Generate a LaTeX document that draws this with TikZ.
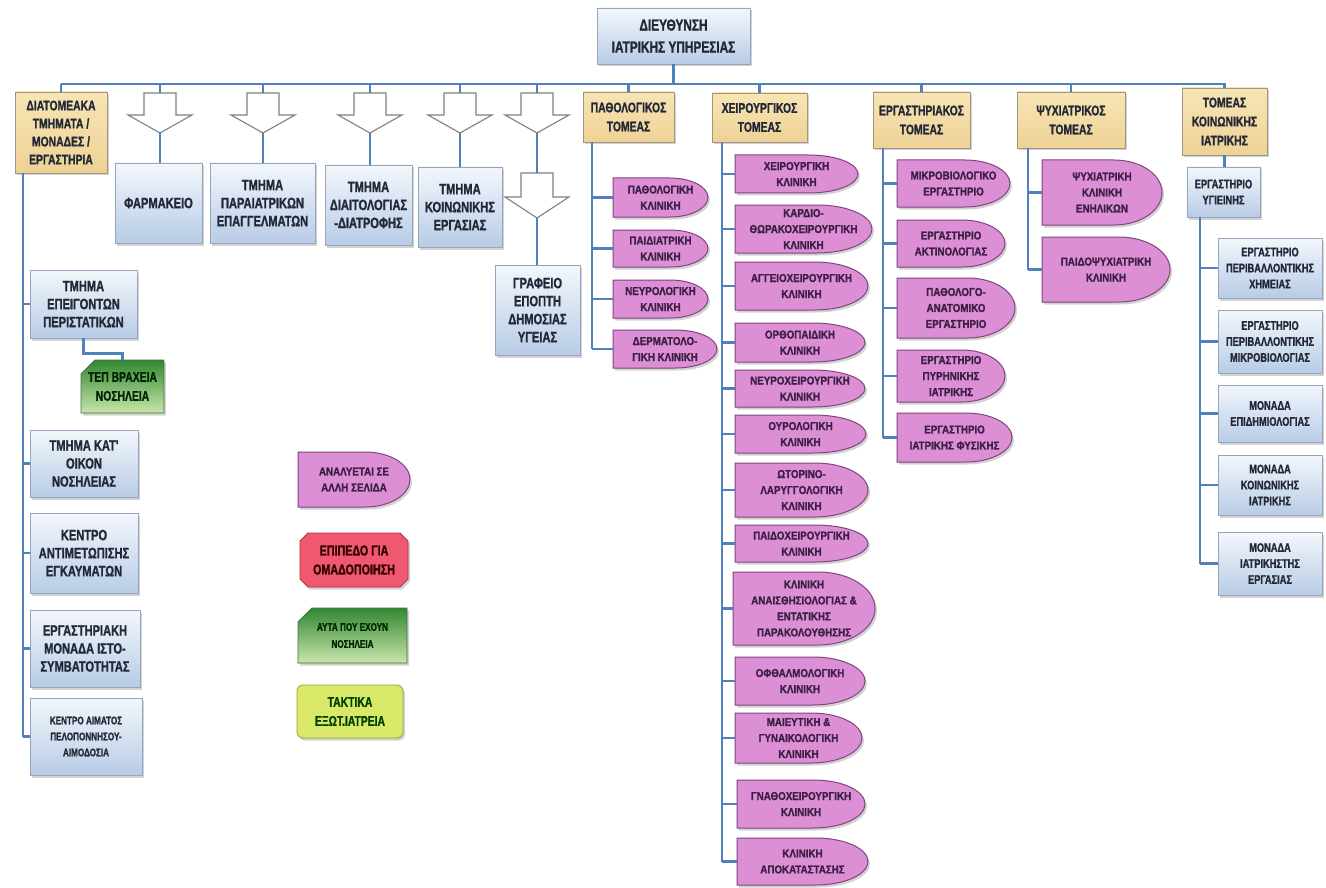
\documentclass[tikz,border=0pt]{standalone}
\usepackage{fontspec}
\setmainfont{Liberation Sans}
\newfontfamily\fN{Liberation Sans}[UprightFont=* Bold,FakeStretch=0.74,FakeBold=1.2]
\newfontfamily\fP{Liberation Sans}[UprightFont=* Bold,FakeStretch=0.85,FakeBold=1.2]
\usetikzlibrary{shadows,shapes.misc,calc}
\definecolor{conncol}{RGB}{79,129,189}
\definecolor{bluetop}{RGB}{243,247,252}
\definecolor{bluebot}{RGB}{184,204,230}
\definecolor{blueline}{RGB}{150,165,190}
\definecolor{tantop}{RGB}{247,229,180}
\definecolor{tanbot}{RGB}{238,210,150}
\definecolor{tanline}{RGB}{160,150,130}
\definecolor{pinkfill}{RGB}{221,143,213}
\definecolor{pinkline}{RGB}{125,70,125}
\definecolor{pinktxt}{RGB}{60,30,70}
\definecolor{txtdark}{RGB}{35,40,55}
\definecolor{greentop}{RGB}{50,135,50}
\definecolor{greenbot}{RGB}{200,230,170}
\definecolor{greenline}{RGB}{70,110,60}
\definecolor{redfill}{RGB}{240,88,112}
\definecolor{redline}{RGB}{180,50,70}
\definecolor{yelfill}{RGB}{218,232,105}
\definecolor{yelline}{RGB}{150,160,60}
% style, name, x1, y1, x2, y2, text
\newcommand\bx[7]{\node[#1, minimum width={(#5-#3)*1pt}, minimum height={(#6-#4)*1pt}] (#2) at ({(#3+#5)/2},{-(#4+#6)/2}) {#7};}
% name, x1, y1, x2, y2, text
\newcommand\pk[6]{%
 \pgfmathsetmacro\rr{0.4*(#4-#2)}%
 \pgfmathsetmacro\hh{(#5-#3)/2}%
 \path[pinkshape] (#2,-#3) -- ({#4-\rr},-#3) arc[start angle=90,end angle=-90,x radius=\rr,y radius=\hh] -- (#2,-#5) -- cycle;%
 \node[pinktext, minimum width={(#4-#2)*1pt}, minimum height={(#5-#3)*1pt}] (#1) at ({(#2+#4)/2},{-(#3+#5)/2}) {#6};}
% name, cx, ytop, yshaft, ytip
\newcommand\harrow[5]{%
 \path[hollow] ({#2-16},-#3) -- ({#2+16},-#3) -- ({#2+16},-#4) -- ({#2+32},-#4) -- (#2,-#5) -- ({#2-32},-#4) -- ({#2-16},-#4) -- cycle;%
 \coordinate (#1t) at (#2,-#3);\coordinate (#1b) at (#2,-#5);}
\begin{document}
\begin{tikzpicture}[x=1pt,y=1pt,
  conn/.style={draw=conncol,line width=2.8pt},
  shad/.style={drop shadow={shadow xshift=2pt,shadow yshift=-2.5pt,opacity=0.35}},
  bluebox/.style={draw=blueline,line width=0.8pt,top color=bluetop,bottom color=bluebot,shad,inner sep=0pt,align=center,text=txtdark,font=\fN\fontsize{15}{18}\selectfont},
  smallblue/.style={bluebox,font=\fN\fontsize{12.5}{16}\selectfont},
  tanbox/.style={draw=tanline,line width=0.8pt,top color=tantop,bottom color=tanbot,shad,inner sep=0pt,align=center,text=txtdark,font=\fN\fontsize{14}{19}\selectfont},
  pinkshape/.style={fill=pinkfill,draw=pinkline,line width=1pt,shad},
  pinktext/.style={inner sep=0pt,align=center,text=pinktxt,font=\fP\fontsize{11.5}{16}\selectfont},
  hollow/.style={fill=white,draw=black!50,line width=1.1pt},
  greenbox/.style={chamfered rectangle,chamfered rectangle corners=north west,chamfered rectangle xsep=7pt,chamfered rectangle ysep=7pt,draw=greenline,line width=0.8pt,top color=greentop,bottom color=greenbot,shad,inner sep=0pt,align=center,text=black!85!green,font=\fN\fontsize{14}{19}\selectfont},
  redbox/.style={chamfered rectangle,chamfered rectangle xsep=4pt,chamfered rectangle ysep=4pt,draw=redline,line width=0.8pt,fill=redfill,shad,inner sep=0pt,align=center,text=black!80!red,font=\fN\fontsize{14.5}{19}\selectfont},
  yelbox/.style={rounded corners=6pt,draw=yelline,line width=0.8pt,fill=yelfill,shad,inner sep=0pt,align=center,text=black!75!green,font=\fN\fontsize{14}{19}\selectfont}
]
\fill[white] (0,0) rectangle (1326,-888);
\useasboundingbox (0,0) rectangle (1326,-888);

% header
\bx{bluebox,font=\fN\fontsize{16}{22}\selectfont}{dir}{597}{8}{750}{64}{ΔΙΕΥΘΥΝΣΗ\\ΙΑΤΡΙΚΗΣ ΥΠΗΡΕΣΙΑΣ}

% sector heads
\bx{tanbox,font=\fN\fontsize{14}{18}\selectfont}{diat}{15}{92}{107}{173}{ΔΙΑΤΟΜΕΑΚΑ\\ΤΜΗΜΑΤΑ /\\ΜΟΝΑΔΕΣ /\\ΕΡΓΑΣΤΗΡΙΑ}
\bx{tanbox}{patho}{583}{92}{674}{142}{ΠΑΘΟΛΟΓΙΚΟΣ\\ΤΟΜΕΑΣ}
\bx{tanbox}{xeir}{712}{93}{807}{142}{ΧΕΙΡΟΥΡΓΙΚΟΣ\\ΤΟΜΕΑΣ}
\bx{tanbox}{erg}{873}{92}{970}{148}{ΕΡΓΑΣΤΗΡΙΑΚΟΣ\\ΤΟΜΕΑΣ}
\bx{tanbox}{psy}{1017}{92}{1125}{148}{ΨΥΧΙΑΤΡΙΚΟΣ\\ΤΟΜΕΑΣ}
\bx{tanbox}{koin}{1182}{88}{1267}{155}{ΤΟΜΕΑΣ\\ΚΟΙΝΩΝΙΚΗΣ\\ΙΑΤΡΙΚΗΣ}

% hollow arrows
\harrow{a1}{160}{93}{115}{133}
\harrow{a2}{263}{93}{115}{133}
\harrow{a3}{370}{93}{115}{133}
\harrow{a4}{460}{93}{115}{133}
\harrow{a5}{537}{93}{115}{133}
\harrow{a6}{537}{173}{197}{218}

% blue row
\bx{bluebox}{farm}{115}{163}{202}{243}{ΦΑΡΜΑΚΕΙΟ}
\bx{bluebox}{para}{210}{163}{315}{243}{ΤΜΗΜΑ\\ΠΑΡΑΙΑΤΡΙΚΩΝ\\ΕΠΑΓΓΕΛΜΑΤΩΝ}
\bx{bluebox}{diait}{325}{165}{412}{245}{ΤΜΗΜΑ\\ΔΙΑΙΤΟΛΟΓΙΑΣ\\-ΔΙΑΤΡΟΦΗΣ}
\bx{bluebox}{koinerg}{418}{167}{502}{247}{ΤΜΗΜΑ\\ΚΟΙΝΩΝΙΚΗΣ\\ΕΡΓΑΣΙΑΣ}
\bx{bluebox}{grafeio}{495}{265}{580}{355}{ΓΡΑΦΕΙΟ\\ΕΠΟΠΤΗ\\ΔΗΜΟΣΙΑΣ\\ΥΓΕΙΑΣ}

% left column
\bx{bluebox}{epeig}{30}{270}{137}{338}{ΤΜΗΜΑ\\ΕΠΕΙΓΟΝΤΩΝ\\ΠΕΡΙΣΤΑΤΙΚΩΝ}
\bx{greenbox}{tep}{82}{360}{163}{413}{ΤΕΠ ΒΡΑΧΕΙΑ\\ΝΟΣΗΛΕΙΑ}
\bx{bluebox}{katoikon}{30}{430}{138}{497}{ΤΜΗΜΑ ΚΑΤ'\\ΟΙΚΟΝ\\ΝΟΣΗΛΕΙΑΣ}
\bx{bluebox}{egkaum}{30}{513}{138}{593}{ΚΕΝΤΡΟ\\ΑΝΤΙΜΕΤΩΠΙΣΗΣ\\ΕΓΚΑΥΜΑΤΩΝ}
\bx{bluebox}{isto}{30}{610}{140}{687}{ΕΡΓΑΣΤΗΡΙΑΚΗ\\ΜΟΝΑΔΑ ΙΣΤΟ-\\ΣΥΜΒΑΤΟΤΗΤΑΣ}
\bx{bluebox,font=\fN\fontsize{11}{16}\selectfont}{aima}{30}{698}{142}{775}{ΚΕΝΤΡΟ ΑΙΜΑΤΟΣ\\ΠΕΛΟΠΟΝΝΗΣΟΥ-\\ΑΙΜΟΔΟΣΙΑ}

% pathology
\pk{p1}{613}{178}{708}{217}{ΠΑΘΟΛΟΓΙΚΗ\\ΚΛΙΝΙΚΗ}
\pk{p2}{613}{230}{708}{267}{ΠΑΙΔΙΑΤΡΙΚΗ\\ΚΛΙΝΙΚΗ}
\pk{p3}{613}{280}{708}{318}{ΝΕΥΡΟΛΟΓΙΚΗ\\ΚΛΙΝΙΚΗ}
\pk{p4}{613}{330}{717}{368}{ΔΕΡΜΑΤΟΛΟ-\\ΓΙΚΗ ΚΛΙΝΙΚΗ}

% surgery
\pk{s1}{735}{155}{858}{193}{ΧΕΙΡΟΥΡΓΙΚΗ\\ΚΛΙΝΙΚΗ}
\pk{s2}{735}{205}{872}{253}{ΚΑΡΔΙΟ-\\ΘΩΡΑΚΟΧΕΙΡΟΥΡΓΙΚΗ\\ΚΛΙΝΙΚΗ}
\pk{s3}{735}{262}{868}{310}{ΑΓΓΕΙΟΧΕΙΡΟΥΡΓΙΚΗ\\ΚΛΙΝΙΚΗ}
\pk{s4}{735}{323}{865}{362}{ΟΡΘΟΠΑΙΔΙΚΗ\\ΚΛΙΝΙΚΗ}
\pk{s5}{735}{370}{865}{407}{ΝΕΥΡΟΧΕΙΡΟΥΡΓΙΚΗ\\ΚΛΙΝΙΚΗ}
\pk{s6}{735}{415}{866}{453}{ΟΥΡΟΛΟΓΙΚΗ\\ΚΛΙΝΙΚΗ}
\pk{s7}{735}{463}{868}{517}{ΩΤΟΡΙΝΟ-\\ΛΑΡΥΓΓΟΛΟΓΙΚΗ\\ΚΛΙΝΙΚΗ}
\pk{s8}{735}{525}{868}{562}{ΠΑΙΔΟΧΕΙΡΟΥΡΓΙΚΗ\\ΚΛΙΝΙΚΗ}
\pk{s9}{733}{572}{875}{645}{ΚΛΙΝΙΚΗ\\ΑΝΑΙΣΘΗΣΙΟΛΟΓΙΑΣ \&\\ΕΝΤΑΤΙΚΗΣ\\ΠΑΡΑΚΟΛΟΥΘΗΣΗΣ}
\pk{s10}{735}{657}{865}{705}{ΟΦΘΑΛΜΟΛΟΓΙΚΗ\\ΚΛΙΝΙΚΗ}
\pk{s11}{735}{713}{862}{763}{ΜΑΙΕΥΤΙΚΗ \&\\ΓΥΝΑΙΚΟΛΟΓΙΚΗ\\ΚΛΙΝΙΚΗ}
\pk{s12}{737}{780}{865}{828}{ΓΝΑΘΟΧΕΙΡΟΥΡΓΙΚΗ\\ΚΛΙΝΙΚΗ}
\pk{s13}{737}{838}{868}{885}{ΚΛΙΝΙΚΗ\\ΑΠΟΚΑΤΑΣΤΑΣΗΣ}

% laboratory
\pk{l1}{897}{160}{1010}{207}{ΜΙΚΡΟΒΙΟΛΟΓΙΚΟ\\ΕΡΓΑΣΤΗΡΙΟ}
\pk{l2}{897}{220}{1005}{267}{ΕΡΓΑΣΤΗΡΙΟ\\ΑΚΤΙΝΟΛΟΓΙΑΣ}
\pk{l3}{897}{278}{1015}{338}{ΠΑΘΟΛΟΓΟ-\\ΑΝΑΤΟΜΙΚΟ\\ΕΡΓΑΣΤΗΡΙΟ}
\pk{l4}{897}{350}{1005}{402}{ΕΡΓΑΣΤΗΡΙΟ\\ΠΥΡΗΝΙΚΗΣ\\ΙΑΤΡΙΚΗΣ}
\pk{l5}{897}{413}{1012}{462}{ΕΡΓΑΣΤΗΡΙΟ\\ΙΑΤΡΙΚΗΣ ΦΥΣΙΚΗΣ}

% psychiatry
\pk{y1}{1042}{160}{1162}{225}{ΨΥΧΙΑΤΡΙΚΗ\\ΚΛΙΝΙΚΗ\\ΕΝΗΛΙΚΩΝ}
\pk{y2}{1042}{237}{1170}{302}{ΠΑΙΔΟΨΥΧΙΑΤΡΙΚΗ\\ΚΛΙΝΙΚΗ}

% community medicine
\bx{smallblue}{ygein}{1187}{167}{1260}{217}{ΕΡΓΑΣΤΗΡΙΟ\\ΥΓΙΕΙΝΗΣ}
\bx{smallblue}{c1}{1218}{238}{1322}{298}{ΕΡΓΑΣΤΗΡΙΟ\\ΠΕΡΙΒΑΛΛΟΝΤΙΚΗΣ\\ΧΗΜΕΙΑΣ}
\bx{smallblue}{c2}{1218}{310}{1322}{373}{ΕΡΓΑΣΤΗΡΙΟ\\ΠΕΡΙΒΑΛΛΟΝΤΙΚΗΣ\\ΜΙΚΡΟΒΙΟΛΟΓΙΑΣ}
\bx{smallblue}{c3}{1218}{385}{1322}{442}{ΜΟΝΑΔΑ\\ΕΠΙΔΗΜΙΟΛΟΓΙΑΣ}
\bx{smallblue}{c4}{1218}{455}{1322}{515}{ΜΟΝΑΔΑ\\ΚΟΙΝΩΝΙΚΗΣ\\ΙΑΤΡΙΚΗΣ}
\bx{smallblue}{c5}{1218}{532}{1322}{595}{ΜΟΝΑΔΑ\\ΙΑΤΡΙΚΗΣΤΗΣ\\ΕΡΓΑΣΙΑΣ}

% legend
\pk{lg1}{298}{452}{410}{507}{ΑΝΑΛΥΕΤΑΙ ΣΕ\\ΑΛΛΗ ΣΕΛΙΔΑ}
\bx{redbox}{lg2}{300}{533}{408}{587}{ΕΠΙΠΕΔΟ ΓΙΑ\\ΟΜΑΔΟΠΟΙΗΣΗ}
\bx{greenbox,font=\fN\fontsize{11}{17}\selectfont}{lg3}{298}{608}{407}{663}{ΑΥΤΑ ΠΟΥ ΕΧΟΥΝ\\ΝΟΣΗΛΕΙΑ}
\bx{yelbox}{lg4}{297}{685}{403}{738}{ΤΑΚΤΙΚΑ\\ΕΞΩΤ.ΙΑΤΡΕΙΑ}

% ---------- connectors ----------
\coordinate (busL) at (61,-84);
\draw[conn] (dir.south) -- (dir.south |- busL);
\draw[conn] (busL) -- (busL -| koin.north) -- (koin.north);
\draw[conn] (busL) -- (diat.north);
\foreach \n in {patho,xeir,erg,psy} \draw[conn] (\n.north |- busL) -- (\n.north);
\foreach \n in {a1,a2,a3,a4,a5} \draw[conn] (\n t |- busL) -- (\n t);
\draw[conn] (a1b) -- (a1b |- farm.north);
\draw[conn] (a2b) -- (a2b |- para.north);
\draw[conn] (a3b) -- (a3b |- diait.north);
\draw[conn] (a4b) -- (a4b |- koinerg.north);
\draw[conn] (a5b) -- (a6t);
\draw[conn] (a6b) -- (a6b |- grafeio.north);

% left column
\coordinate (lv) at (23,0);
\draw[conn] (lv |- diat.south) -- (lv |- aima.west);
\foreach \n in {epeig,katoikon,egkaum,isto,aima} \draw[conn] (lv |- \n.west) -- (\n.west);
\draw[conn] (epeig.south) -- ++(0,-15) -| (tep.north);

% pathology
\coordinate (pv) at (592,0);
\draw[conn] (pv |- patho.south) -- (pv |- p4.west);
\foreach \n in {p1,p2,p3,p4} \draw[conn] (pv |- \n.west) -- (\n.west);

% surgery
\coordinate (sv) at (722,0);
\draw[conn] (sv |- xeir.south) -- (sv |- s13.west);
\foreach \n in {s1,s2,s3,s4,s5,s6,s7,s8,s9,s10,s11,s12,s13} \draw[conn] (sv |- \n.west) -- (\n.west);

% laboratory
\coordinate (lbv) at (883,0);
\draw[conn] (lbv |- erg.south) -- (lbv |- l5.west);
\foreach \n in {l1,l2,l3,l4,l5} \draw[conn] (lbv |- \n.west) -- (\n.west);

% psychiatry
\coordinate (yv) at (1028,0);
\draw[conn] (yv |- psy.south) -- (yv |- y2.west);
\foreach \n in {y1,y2} \draw[conn] (yv |- \n.west) -- (\n.west);

% community
\draw[conn] (koin.south) -- (koin.south |- ygein.north);
\coordinate (cv) at (1200,0);
\draw[conn] (cv |- ygein.south) -- (cv |- c5.west);
\foreach \n in {c1,c2,c3,c4,c5} \draw[conn] (cv |- \n.west) -- (\n.west);
\end{tikzpicture}
\end{document}
